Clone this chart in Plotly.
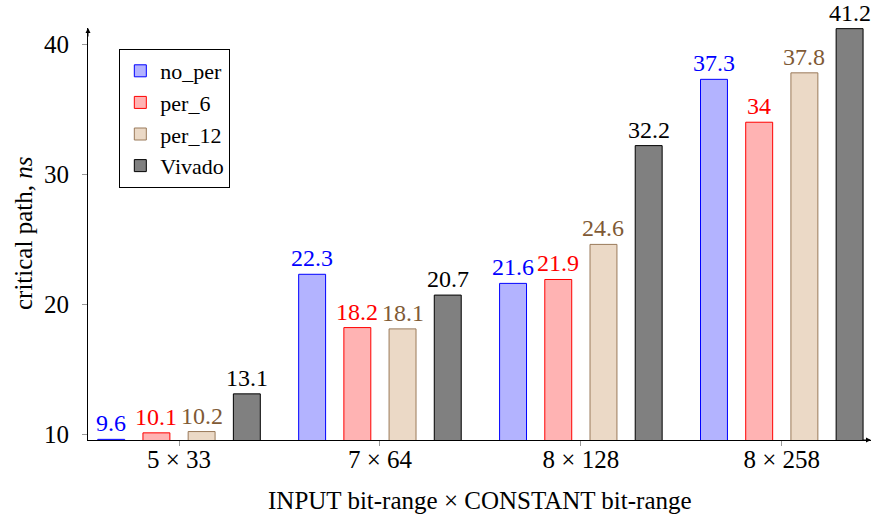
import plotly.graph_objects as go

categories = ["5 × 33", "7 × 64", "8 × 128", "8 × 258"]
series_names = ["no_per", "per_6", "per_12", "Vivado"]
no_per = [9.6, 22.3, 21.6, 37.3]
per_6 = [10.1, 18.2, 21.9, 34]
per_12 = [10.2, 18.1, 24.6, 37.8]
vivado = [13.1, 20.7, 32.2, 41.2]
y_ticks = [10, 20, 30, 40]

series_values = [no_per, per_6, per_12, vivado]
fills = ["#b3b3ff", "#ffb3b3", "#ebd9c6", "#808080"]
lines = ["#0000ff", "#ff0000", "#9a7a5a", "#000000"]
label_colors = ["#0000ff", "#ff0000", "#7f5a35", "#000000"]

FONT = "Liberation Serif"
FS = 25
Y_MIN, Y_MAX = 9.55, 41.25
X_MIN, X_MAX = -0.453, 3.444
BARGAP = 0.1
SLOT = (1 - BARGAP) / 4

fig = go.Figure()
for name, vals, fc, lc in zip(series_names, series_values, fills, lines):
    fig.add_trace(go.Bar(
        x=categories, y=vals, name=name, legendgroup=name,
        marker=dict(color=fc, line=dict(color=lc, width=1)),
    ))

annotations = []
for j, (vals, col) in enumerate(zip(series_values, label_colors)):
    off = (j - 1.5) * SLOT
    for i, v in enumerate(vals):
        annotations.append(dict(
            x=i + off, y=max(v, Y_MIN), xref="x", yref="y",
            text=f"{v:g}", showarrow=False, yanchor="bottom", yshift=1,
            font=dict(family=FONT, size=24, color=col),
        ))

# axis arrows
annotations.append(dict(x=X_MAX, y=Y_MIN, xref="x", yref="y", ax=-10, ay=0,
                        showarrow=True, arrowhead=2, arrowsize=1, arrowwidth=1,
                        arrowcolor="black", text=""))
annotations.append(dict(x=X_MIN, y=Y_MAX, xref="x", yref="y", ax=0, ay=10,
                        showarrow=True, arrowhead=2, arrowsize=1, arrowwidth=1,
                        arrowcolor="black", text=""))

# axis titles
annotations.append(dict(text="INPUT bit-range × CONSTANT bit-range", xref="paper",
                        yref="paper", x=0.5, y=0, yshift=-60, showarrow=False,
                        yanchor="middle", font=dict(family=FONT, size=FS)))
annotations.append(dict(text="critical path, <i>ns</i>", xref="paper", yref="paper",
                        x=0, xshift=-65, y=0.5, showarrow=False, textangle=-90,
                        xanchor="center", font=dict(family=FONT, size=FS)))

fig.update_layout(
    width=873, height=517,
    margin=dict(l=88, r=2, t=28, b=77),
    paper_bgcolor="white", plot_bgcolor="white",
    barmode="group", bargap=BARGAP, bargroupgap=0.404,
    font=dict(family=FONT, size=FS, color="black"),
    showlegend=True,
    legend=dict(x=0.04, y=0.949, xanchor="left", yanchor="top",
                bordercolor="black", borderwidth=1, bgcolor="white",
                font=dict(family=FONT, size=22), tracegroupgap=0,
                traceorder="normal", itemwidth=30),
    annotations=annotations,
    xaxis=dict(range=[X_MIN, X_MAX], showline=True, linecolor="black", linewidth=1,
               ticks="outside", ticklen=5, tickcolor="#999999", showgrid=False,
               zeroline=False, automargin=False, ticklabelstandoff=-8),
    yaxis=dict(range=[Y_MIN, Y_MAX], showline=True, linecolor="black", linewidth=1,
               tickvals=y_ticks, ticks="outside", ticklen=5, tickcolor="#999999",
               showgrid=False, zeroline=False, automargin=False,
               ticklabelstandoff=8),
)

fig.write_html("out.html", config={"displayModeBar": False})
with open("out.html", encoding="utf-8") as f:
    html = f.read()
html = html.replace("<head>", "<head><style>html,body{margin:0;padding:0;}</style>", 1)
with open("out.html", "w", encoding="utf-8") as f:
    f.write(html)
